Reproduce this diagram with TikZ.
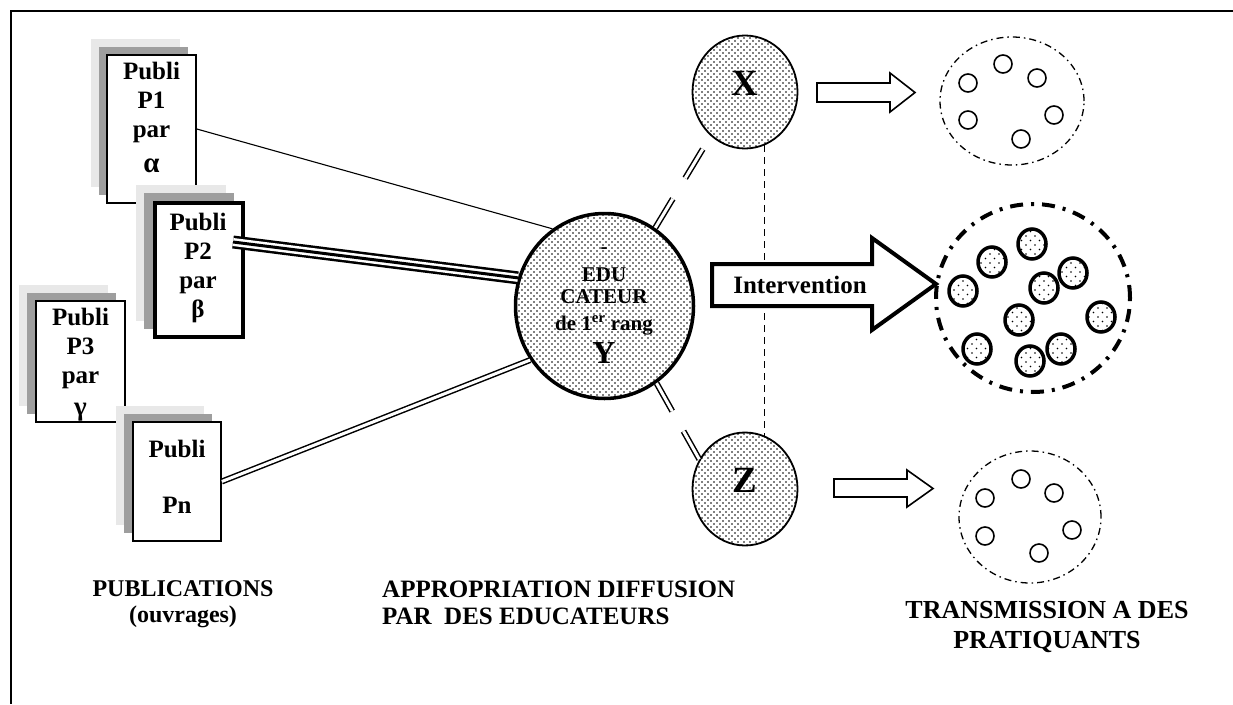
\documentclass[tikz,border=0pt]{standalone}
\usepackage{fontspec}
\setmainfont{Liberation Serif}
\usetikzlibrary{shapes.geometric,patterns,calc}

\pgfdeclarepatternformonly{bigdots}{\pgfqpoint{-1pt}{-1pt}}{\pgfqpoint{5pt}{5pt}}{\pgfqpoint{6pt}{6pt}}{%
  \pgfpathcircle{\pgfqpoint{0pt}{0pt}}{0.8pt}%
  \pgfpathcircle{\pgfqpoint{3pt}{3pt}}{0.8pt}%
  \pgfusepath{fill}}
\pgfdeclarepatternformonly{sparsedots}{\pgfqpoint{-1pt}{-1pt}}{\pgfqpoint{8pt}{8pt}}{\pgfqpoint{9pt}{9pt}}{%
  \pgfpathcircle{\pgfqpoint{0pt}{0pt}}{0.9pt}%
  \pgfpathcircle{\pgfqpoint{4.5pt}{4.5pt}}{0.9pt}%
  \pgfusepath{fill}}

\begin{document}
\begin{tikzpicture}[x=1pt,y=-1pt,
  shlight/.style={fill=black!9},
  shdark/.style={fill=black!38},
  pubbox/.style={draw, fill=white, line width=1.6pt, inner sep=0pt},
  pubtext/.style={font=\bfseries\fontsize{25}{29}\selectfont, align=center, anchor=north, inner sep=0pt},
  ytext/.style={font=\bfseries\fontsize{21}{22}\selectfont, anchor=base, inner sep=0pt},
  bigcirc/.style={ellipse, draw, pattern=bigdots, inner sep=0pt},
  thinlink/.style={line width=1.1pt},
  dbl/.style={double, double distance=3pt, line width=1.5pt},
  triple/.style={line width=13pt, postaction={draw, white, line width=8pt}, postaction={draw, black, line width=3pt}},
  hollowarrow/.style={draw, fill=white, line width=1.6pt, line join=miter},
  grp/.style={line width=1.3pt, dash pattern=on 7pt off 4pt on 1.5pt off 4pt},
  pers/.style={line width=1.6pt},
  persbig/.style={line width=3.5pt, pattern=sparsedots},
  label/.style={font=\bfseries\fontsize{25}{29}\selectfont, inner sep=0pt}
]
\useasboundingbox (0,0) rectangle (1233,704);
% frame
\draw[line width=2pt] (1233,10.5) -- (10.5,10.5) -- (10.5,704);

% ---------- publications ----------
\fill[shlight] (91,39) rectangle (180,187);
\fill[shdark] (99,47) rectangle (188,195);
\node[pubbox, minimum width=89, minimum height=148] (P1) at (151.5,129) {};
\node[pubtext] (P1t) at (151.5,62) {Publi\\P1\\par\\[6pt]{\fontsize{29}{29}\selectfont α}};

\fill[shlight] (136,185) rectangle (226,321);
\fill[shdark] (144,193) rectangle (234,329);
\node[pubbox, line width=4pt, minimum width=88, minimum height=134] (P2) at (199,270) {};
\node[pubtext] (P2t) at (198,213) {Publi\\P2\\par\\β};

\fill[shlight] (19,285) rectangle (108,406);
\fill[shdark] (27,293) rectangle (116,414);
\node[pubbox, minimum width=89, minimum height=121] (P3) at (80.5,361.5) {};
\node[pubtext] (P3t) at (80.5,308) {Publi\\P3\\par\\[3pt]{\fontsize{27}{27}\selectfont γ}};

\fill[shlight] (116,406) rectangle (204,525);
\fill[shdark] (124,414) rectangle (212,533);
\node[pubbox, minimum width=88, minimum height=119] (Pn) at (177,481.5) {};
\node[pubtext] (Pnt) at (177,440) {Publi\\[27pt]Pn};

% ---------- educators ----------
\node[bigcirc, line width=3.5pt, minimum width=178, minimum height=185] (Y) at (604.5,306) {};
\node[ytext] (Yd) at (604,253) {-};
\node[ytext] (Ye) at (604,281) {EDU};
\node[ytext] (Yc) at (604,303) {CATEUR};
\node[ytext] (Yr) at (604,330) {de 1\textsuperscript{er} rang};
\node[ytext, font=\bfseries\fontsize{32}{32}\selectfont] (Yl) at (604,363) {Y};

\node[bigcirc, line width=1.8pt, minimum width=105, minimum height=113] (X) at (745,92) {};
\node[anchor=base, inner sep=0pt, font=\bfseries\fontsize{37}{37}\selectfont] (Xl) at (745,95) {X};
\node[bigcirc, line width=1.8pt, minimum width=105, minimum height=113] (Z) at (745,489) {};
\node[anchor=base, inner sep=0pt, font=\bfseries\fontsize{37}{37}\selectfont] (Zl) at (745,492) {Z};

% ---------- links ----------
\draw[thinlink] (P1.east) -- (Y.124);
\coordinate (p2s) at ($(P2.north east)+(-12,41)$);
\draw[triple] (p2s) -- (Y.162);
\draw[dbl] (Pn.east) -- (Y.216);
\draw[dbl, dash pattern=on 34pt off 24pt on 34pt off 300pt] (Y.57) -- (X.232);
\draw[dbl, dash pattern=on 32pt off 23pt on 34pt off 300pt] (Y.-56) -- (Z.147);
\draw[line width=1.4pt, dash pattern=on 7pt off 5pt] (X.-70) -- (Z.70);

% ---------- arrows ----------
\draw[hollowarrow] (817,83) -- (890,83) -- (890,73) -- (915,92.5) -- (890,112) -- (890,102) -- (817,102) -- cycle;
\draw[hollowarrow] (834,479) -- (907,479) -- (907,470) -- (933,488.5) -- (907,507) -- (907,497) -- (834,497) -- cycle;
\draw[hollowarrow, line width=4pt] (712,264) -- (872,264) -- (872,238) -- (936,284) -- (872,330) -- (872,306) -- (712,306) -- cycle;
\node[label, anchor=base] (iv) at (800,293) {Intervention};

% ---------- practitioners ----------
\draw[grp] (1012,101) ellipse [x radius=72pt, y radius=64pt];
\foreach \p in {(968,83),(1003,64),(1037,78),(968,120),(1054,115),(1021,139)}
  \draw[pers] \p circle [radius=9pt];

\draw[line width=4pt, dash pattern=on 13pt off 8pt on 3pt off 8pt] (1033,298) ellipse [x radius=97pt, y radius=94pt];
\foreach \p in {(1032,244),(992,262),(963,291),(1073,273),(1044,288),(1019,320),(1101,317),(977,349),(1030,361),(1061,349)}
  \draw[persbig] \p ellipse [x radius=14pt, y radius=15pt];

\draw[grp] (1030,517) ellipse [x radius=71pt, y radius=66pt];
\foreach \p in {(1021,479),(1054,493),(985,498),(985,536),(1072,530),(1039,553)}
  \draw[pers] \p circle [radius=9pt];

% ---------- captions ----------
\node[label, anchor=base, font=\bfseries\fontsize{24}{28}\selectfont] (c1) at (183,596) {PUBLICATIONS};
\node[label, anchor=base, font=\bfseries\fontsize{24}{28}\selectfont] (c1b) at (183,622) {(ouvrages)};
\node[label, anchor=base west] (c2) at (382,597) {APPROPRIATION DIFFUSION};
\node[label, anchor=base west] (c2b) at (382,624) {PAR\ \ DES EDUCATEURS};
\node[label, anchor=base, font=\bfseries\fontsize{26}{30}\selectfont] (c3) at (1047,618) {TRANSMISSION A DES};
\node[label, anchor=base, font=\bfseries\fontsize{26}{30}\selectfont] (c3b) at (1047,648) {PRATIQUANTS};
\end{tikzpicture}
\end{document}
